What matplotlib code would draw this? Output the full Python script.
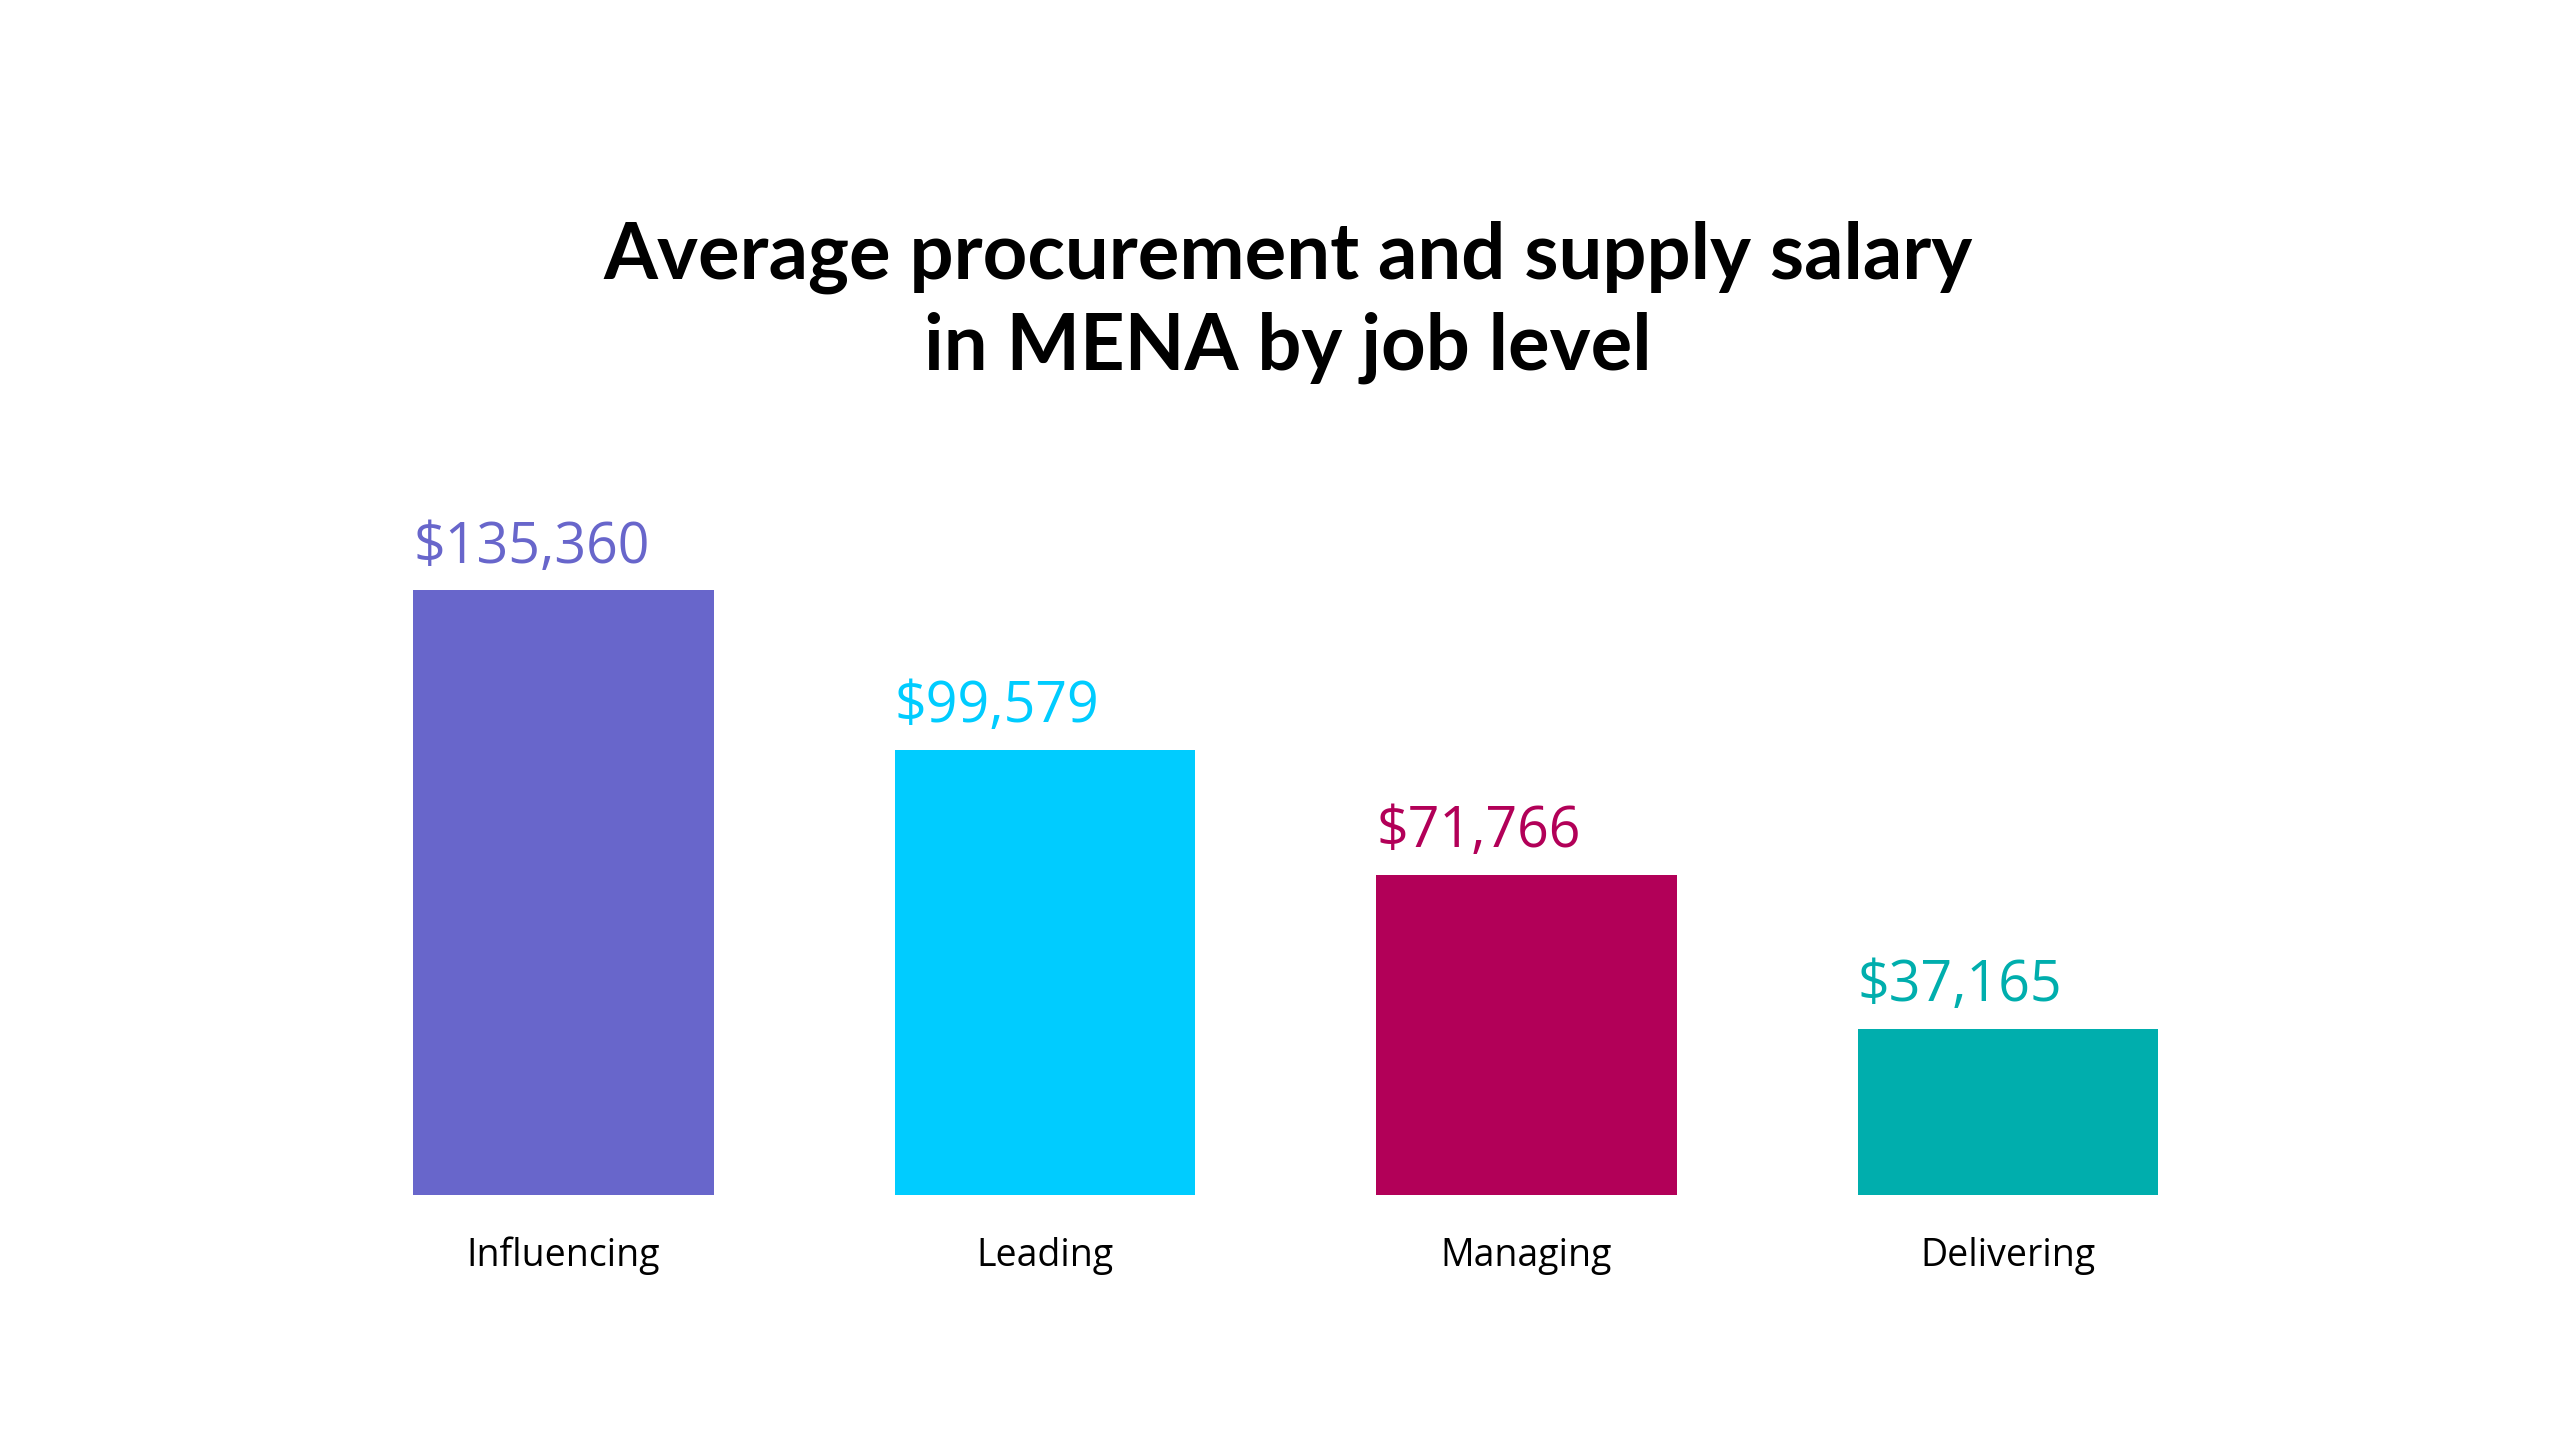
import matplotlib
matplotlib.use("Agg")
import matplotlib.pyplot as plt

categories = ["Influencing", "Leading", "Managing", "Delivering"]
values = [135360, 99579, 71766, 37165]
labels = ["$135,360", "$99,579", "$71,766", "$37,165"]
colors = ["#6866CB", "#00CCFF", "#B20058", "#00AEAD"]

fig = plt.figure(figsize=(25.6, 14.4), dpi=100)
fig.patch.set_facecolor("white")
ax = fig.add_axes([0.1615, 0.170, 0.6815, 0.420])
x = list(range(len(categories)))
w = 0.6235
ax.bar(x, values, width=w, color=colors)
ax.set_xlim(-w/2, 3 + w/2)
ax.set_ylim(0, 135360)
for xi, v, lab, c in zip(x, values, labels, colors):
    ax.annotate(lab, (xi - w/2, v), xytext=(0, 10), textcoords="offset points",
                ha="left", va="bottom", fontsize=40, color=c, family="Open Sans")
    fig.text(0, 0, "")
ax.set_xticks(x)
ax.set_xticklabels(categories, fontsize=27, family="Open Sans")
ax.tick_params(axis="x", length=0, pad=30)
ax.set_yticks([])
for s in ax.spines.values():
    s.set_visible(False)
fig.text(0.503, 0.79, "Average procurement and supply salary\nin MENA by job level",
         ha="center", va="center", fontsize=56, fontweight="bold", family="Lato",
         linespacing=1.3)
fig.savefig("out.png", dpi=100, facecolor="white")
